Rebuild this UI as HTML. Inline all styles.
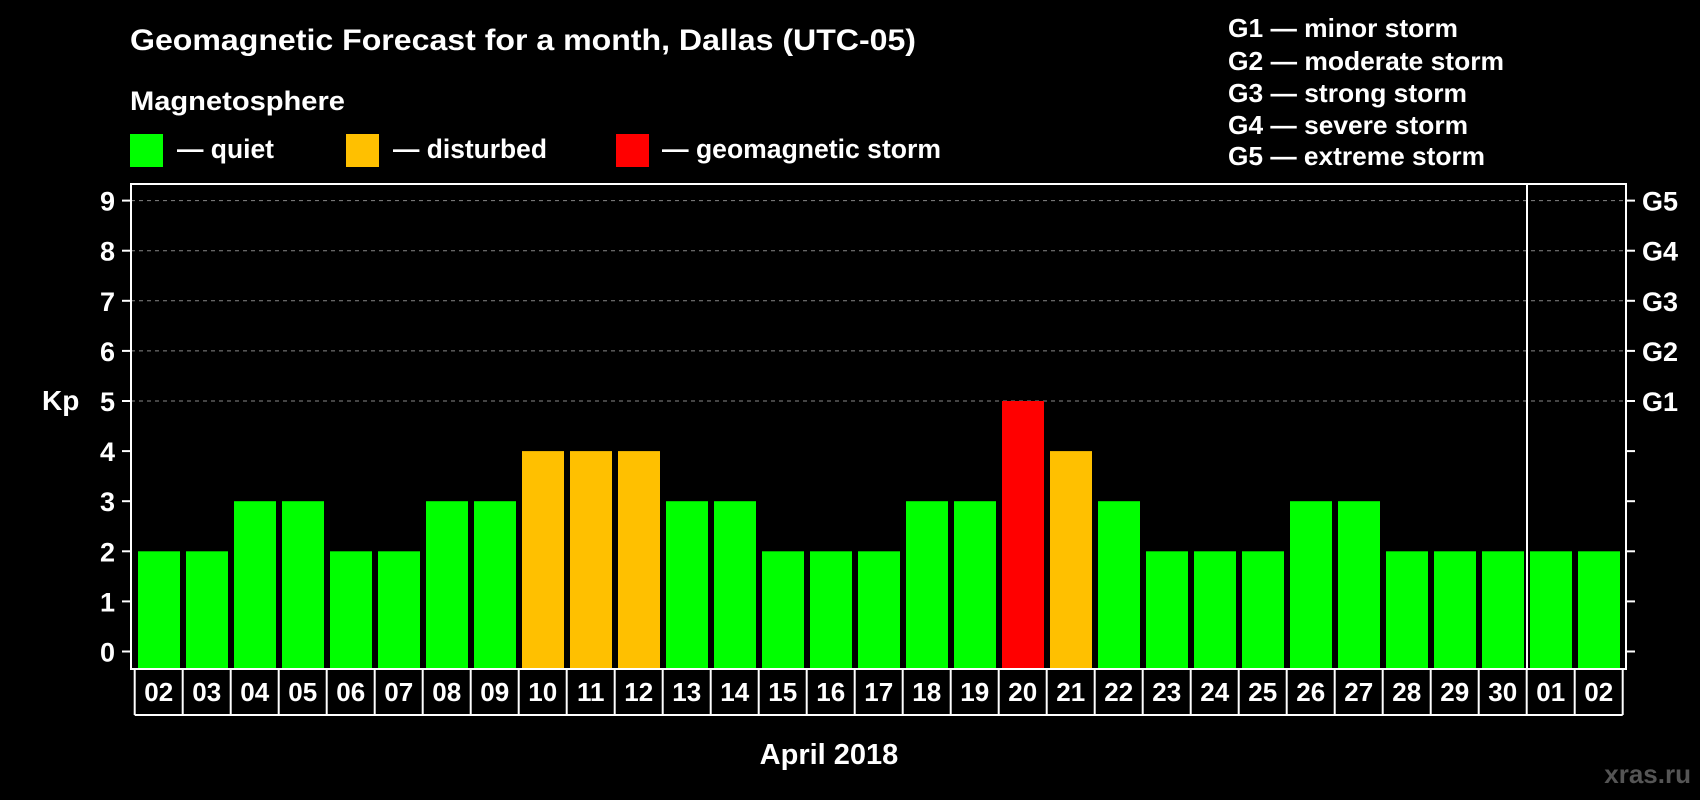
<!DOCTYPE html>
<html><head><meta charset="utf-8"><style>
html,body{margin:0;padding:0;background:#000;}
svg{display:block;font-family:"Liberation Sans",Arial,sans-serif;font-weight:bold;}
</style></head><body>
<svg id="chart" width="1700" height="800" viewBox="0 0 1700 800" xmlns="http://www.w3.org/2000/svg">
<rect width="1700" height="800" fill="#000"/>
<text x="130" y="50" fill="#fff" font-size="30" textLength="786" lengthAdjust="spacingAndGlyphs">Geomagnetic Forecast for a month, Dallas (UTC-05)</text>
<text x="130" y="110" fill="#fff" font-size="27" textLength="215" lengthAdjust="spacingAndGlyphs">Magnetosphere</text>
<rect x="130" y="134" width="33" height="33" fill="#00ff00"/>
<text x="177" y="158" fill="#fff" font-size="27" textLength="97" lengthAdjust="spacingAndGlyphs">— quiet</text>
<rect x="346" y="134" width="33" height="33" fill="#ffc000"/>
<text x="393" y="158" fill="#fff" font-size="27" textLength="154" lengthAdjust="spacingAndGlyphs">— disturbed</text>
<rect x="616" y="134" width="33" height="33" fill="#ff0000"/>
<text x="662" y="158" fill="#fff" font-size="27" textLength="279" lengthAdjust="spacingAndGlyphs">— geomagnetic storm</text>
<g fill="#fff" font-size="26">
<text x="1228" y="37" textLength="230" lengthAdjust="spacingAndGlyphs">G1 — minor storm</text>
<text x="1228" y="70" textLength="276" lengthAdjust="spacingAndGlyphs">G2 — moderate storm</text>
<text x="1228" y="102" textLength="239" lengthAdjust="spacingAndGlyphs">G3 — strong storm</text>
<text x="1228" y="134" textLength="240" lengthAdjust="spacingAndGlyphs">G4 — severe storm</text>
<text x="1228" y="165" textLength="257" lengthAdjust="spacingAndGlyphs">G5 — extreme storm</text>
</g>
<text x="42" y="410" fill="#fff" font-size="28">Kp</text>
<text x="829" y="764" fill="#fff" font-size="29" text-anchor="middle">April 2018</text>
<text x="1691" y="783" fill="#555" font-size="26" text-anchor="end">xras.ru</text>
<g id="grid"></g><g id="bars"></g><g id="axes"></g>
</svg>
<script>
const days=["02","03","04","05","06","07","08","09","10","11","12","13","14","15","16","17","18","19","20","21","22","23","24","25","26","27","28","29","30","01","02"];
const kp=[2,2,3,3,2,2,3,3,4,4,4,3,3,2,2,2,3,3,5,4,3,2,2,2,3,3,2,2,2,2,2];
const yTicks=[0,1,2,3,4,5,6,7,8,9];
const gLabels=["","","","","","G1","G2","G3","G4","G5"];
const NS="http://www.w3.org/2000/svg";
const L=131,R=1626,T=184,B=669,y0=651.5,unit=50.1,step=48,x0=134.7,bw=42,BB=715;
const y=v=>y0-v*unit;
const xs=i=>x0+i*step;
function mk(tag,attrs,parent){const e=document.createElementNS(NS,tag);for(const k in attrs)e.setAttribute(k,attrs[k]);parent.appendChild(e);return e;}
const grid=document.getElementById('grid'),bars=document.getElementById('bars'),axes=document.getElementById('axes');
yTicks.forEach((t,i)=>{
  if(t>=5){const g=mk('line',{x1:L,x2:R,y1:y(t),y2:y(t),stroke:'#888','stroke-width':1,'stroke-dasharray':'4,4'},grid);
  
  }
  const tl=mk('line',{x1:L-9,x2:L,y1:y(t),y2:y(t),stroke:'#fff','stroke-width':2},axes);
  
  
  const tr=mk('line',{x1:R,x2:R+9,y1:y(t),y2:y(t),stroke:'#fff','stroke-width':2},axes);
  
  
  const lb=mk('text',{x:115,y:y(t)+10,fill:'#fff','font-size':27,'text-anchor':'end'},axes);lb.textContent=t;
  
  
  if(gLabels[i]){const gl=mk('text',{x:1642,y:y(t)+10,fill:'#fff','font-size':27},axes);gl.textContent=gLabels[i];
  
  }
});
kp.forEach((v,i)=>{
  const c=v>=5?'#ff0000':(v>=4?'#ffc000':'#00ff00');
  const r=mk('rect',{x:xs(i)+3.3,y:y(v),width:bw,height:B-y(v)-1,fill:c},bars);
  
  
  const d=mk('line',{x1:xs(i),x2:xs(i),y1:B,y2:BB,stroke:'#fff','stroke-width':2},axes);
  
  
  const t=mk('text',{x:xs(i)+step/2,y:701,fill:'#fff','font-size':26,'text-anchor':'middle'},axes);t.textContent=days[i];
  
  
});
const rd=mk('line',{x1:xs(days.length),x2:xs(days.length),y1:B,y2:BB,stroke:'#fff','stroke-width':2},axes);


const bl=mk('line',{x1:x0,x2:xs(days.length),y1:BB,y2:BB,stroke:'#fff','stroke-width':2},axes);


const fr=mk('rect',{x:L,y:T,width:R-L,height:B-T,fill:'none',stroke:'#fff','stroke-width':2},axes);


const md=mk('line',{x1:1527,x2:1527,y1:T,y2:B,stroke:'#fff','stroke-width':2},axes);


</script>
</body></html>
